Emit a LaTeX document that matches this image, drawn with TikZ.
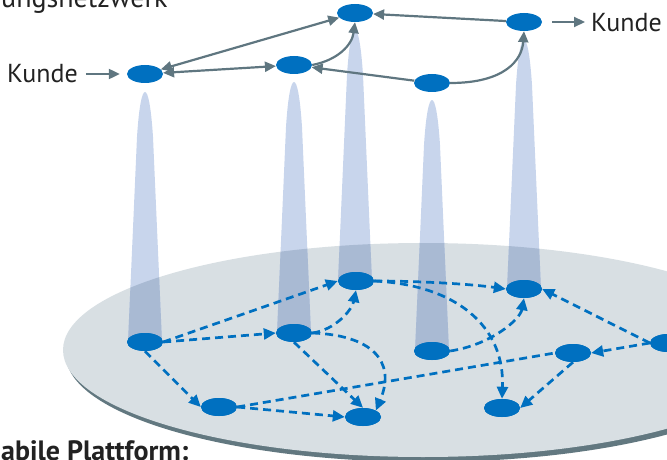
\documentclass[tikz,border=0pt]{standalone}
\usepackage{fontspec}
\setmainfont{PT Sans}
\usetikzlibrary{arrows.meta,shapes.geometric}
\definecolor{nodeblue}{HTML}{0070C0}
\definecolor{arrowgray}{HTML}{5F7680}
\definecolor{beamlight}{HTML}{C8D5EC}
\definecolor{beamdark}{HTML}{A9BAD3}
\definecolor{platfill}{HTML}{D8DFE3}
\definecolor{platshadow}{HTML}{627880}
\definecolor{txt}{HTML}{222222}
\newcommand{\beampath}[3]{(#1-17,#3) -- (#1-8,#2+45) .. controls (#1-6,#2+14) and (#1-3,#2) .. (#1,#2) .. controls (#1+3,#2) and (#1+6,#2+14) .. (#1+8,#2+45) -- (#1+17,#3) -- cycle}
\newcommand{\allbeams}[1]{%
  \fill[#1] \beampath{145}{92}{342};
  \fill[#1] \beampath{294}{82}{333};
  \fill[#1] \beampath{355}{30}{281};
  \fill[#1] \beampath{524}{40}{289};
  \fill[#1] \beampath{432}{100}{351};
}
\tikzset{
  net/.style={ellipse, fill=nodeblue, minimum width=36pt, minimum height=18pt, inner sep=0pt},
  gtip/.style={-{Triangle[length=11pt,width=10pt]}},
  garrow/.style={draw=arrowgray, line width=2.2pt, gtip},
  gboth/.style={draw=arrowgray, line width=2.2pt, {Triangle[length=11pt,width=10pt]}-{Triangle[length=11pt,width=10pt]}},
  bline/.style={draw=nodeblue, line width=2.7pt, dash pattern=on 8pt off 5pt},
  barrow/.style={bline, -{Triangle[length=12pt,width=11pt]}},
  lbl/.style={inner sep=0pt, text=txt, font=\fontsize{26}{30}\selectfont},
}
\begin{document}
\begin{tikzpicture}[x=1pt,y=-1pt]
\useasboundingbox (0,0) rectangle (667,460);
% platform
\fill[platshadow] (426,355) ellipse [x radius=360, y radius=107];
\fill[platfill] (423,350) ellipse [x radius=360, y radius=107];
% beams
\allbeams{beamlight}
\begin{scope}
  \clip (423,350) ellipse [x radius=360, y radius=107];
  \allbeams{beamdark}
\end{scope}
% platform nodes
\node[net] (P1) at (145,342) {};
\node[net] (P2) at (294,333) {};
\node[net] (P3) at (356,281) {};
\node[net] (P4) at (524,289) {};
\node[net] (P5) at (432,351) {};
\node[net] (P6) at (219,407) {};
\node[net] (P7) at (363,417) {};
\node[net] (P8) at (573,353) {};
\node[net] (P9) at (502,408) {};
\node[net] (P10) at (668,343) {};
% platform edges
\draw[barrow] (P1.east) -- (P3.west);
\draw[barrow] (P1.east) -- (P2.west);
\draw[barrow] (P1.south) -- (P6.west);
\draw[barrow] (P2.east) .. controls (335,330) and (352,310) .. (P3.south);
\draw[barrow] (P2.south) -- (P7.north);
\draw[barrow] (P2.east) .. controls (370,335) and (397,360) .. (P7.north east);
\draw[barrow] (P6.east) -- (P7.west);
\draw[bline] (P6.east) -- (P8.west);
\draw[barrow] (P3.east) .. controls (420,281) and (470,284) .. (P4.west);
\draw[barrow] (P3.east) .. controls (455,285) and (505,325) .. (P9.north);
\draw[barrow] (P5.east) .. controls (490,345) and (520,320) .. (P4.south);
\draw[barrow] (P10.west) -- (P8.east);
\draw[barrow] (P10.west) -- (P4.east);
\draw[barrow] (P8.south) -- (P9.east);
% redraw nodes on top of line starts
\foreach \n in {P1,P2,P3,P4,P5,P6,P7,P8,P9,P10} {\fill[nodeblue] (\n.center) ellipse [x radius=18, y radius=9];}
% top network nodes
\node[net] (T1) at (145,74) {};
\node[net] (T2) at (294,65) {};
\node[net] (T3) at (355,13) {};
\node[net] (T4) at (524,22) {};
\node[net] (T5) at (432,83) {};
% labels
\node[lbl, anchor=base west, font=\fontsize{28}{32}\selectfont] (title) at (1,8) {ungsnetzwerk};
\node[lbl, anchor=base west, font=\bfseries\fontsize{28}{32}\selectfont] (plat) at (1,460) {abile Plattform:};
\node[lbl, anchor=base west] (kundeL) at (7,82) {Kunde};
\node[lbl, anchor=base west] (kundeR) at (591,32) {Kunde};
% top edges
\draw[garrow, shorten <=8pt, shorten >=7pt] (kundeL.east |- T1) -- (T1.west);
\draw[garrow, shorten <=10pt, shorten >=6pt] (T4.east) -- (kundeR.west |- T4);
\draw[gboth] (T1) -- (T3);
\draw[gboth] (T1) -- (T2);
\draw[garrow] (T4) -- (T3);
\draw[garrow] (T5) -- (T2);
\draw[garrow] (T2.east) .. controls (338,60) and (352,45) .. (T3.south);
\draw[garrow] (T5.east) .. controls (505,83) and (522,60) .. (T4.south);
\end{tikzpicture}
\end{document}
